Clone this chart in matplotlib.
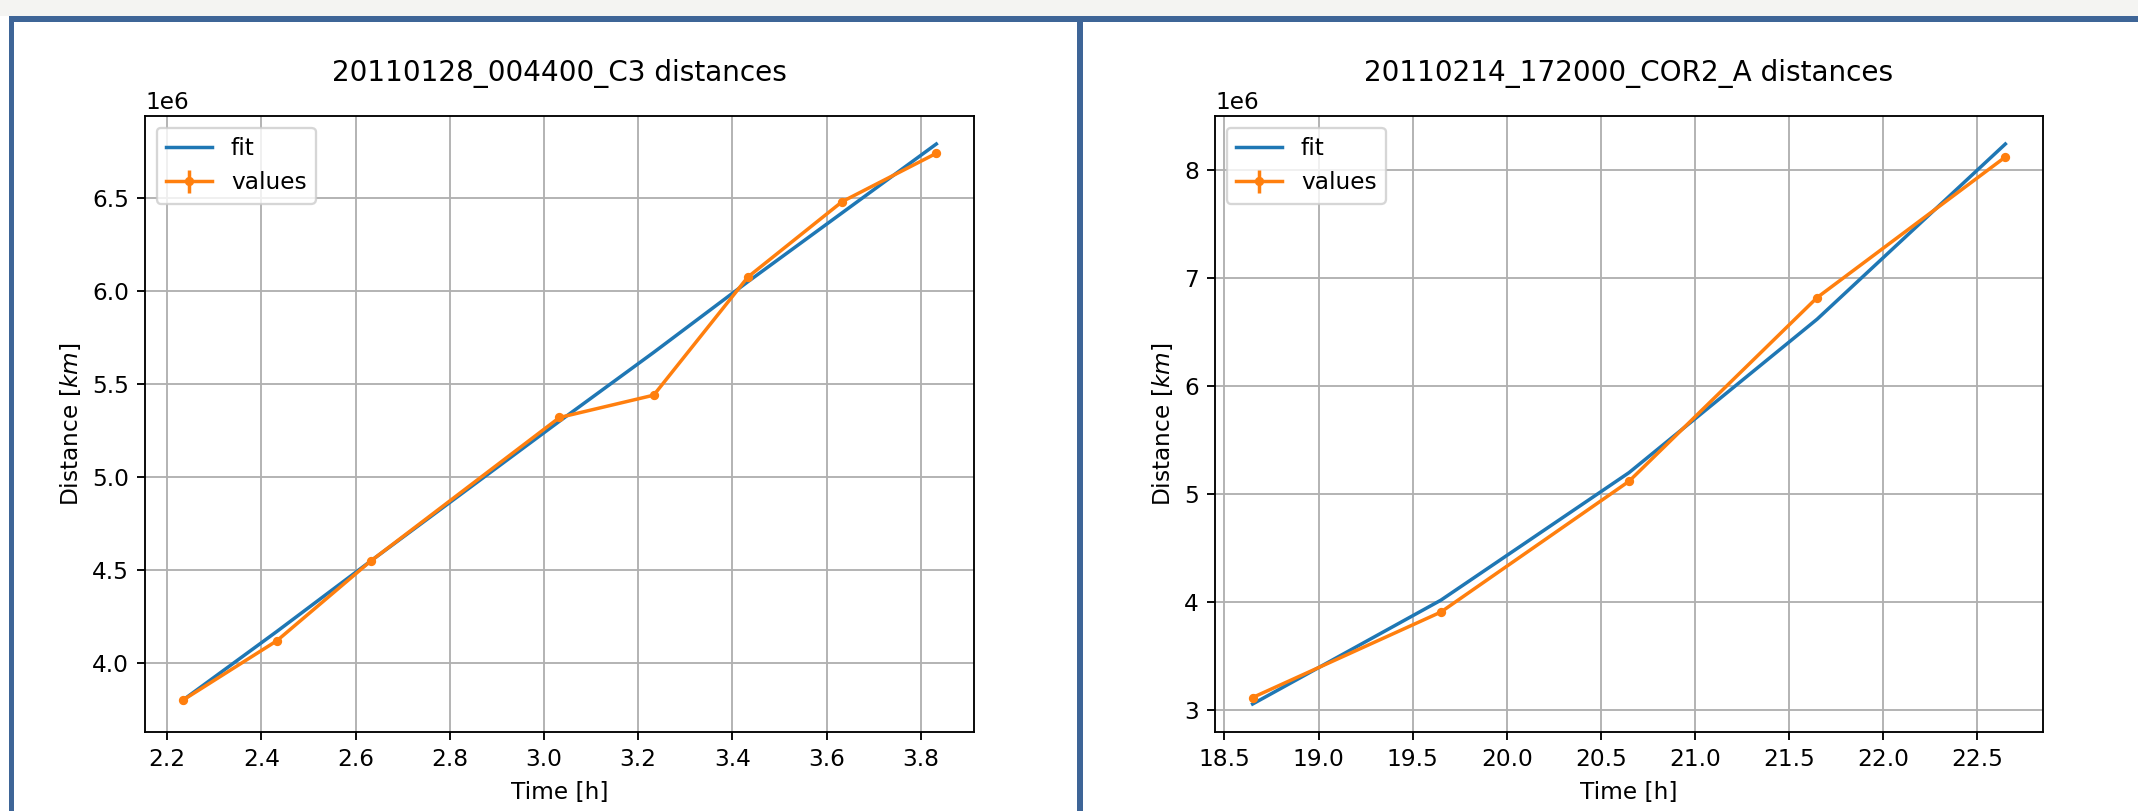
import numpy as np
import matplotlib
matplotlib.use("Agg")
import matplotlib.pyplot as plt
from matplotlib.patches import Rectangle

# left panel: LASCO C3
t_c3 = [2.233, 2.433, 2.633, 3.033, 3.233, 3.433, 3.633, 3.833]
d_c3 = [3.80e6, 4.12e6, 4.55e6, 5.32e6, 5.44e6, 6.075e6, 6.48e6, 6.74e6]
err_c3 = [0.02e6] * 8
fit_c3 = [3.80e6, 4.17e6, 4.55e6, 5.30e6, 5.67e6, 6.05e6, 6.42e6, 6.79e6]

# right panel: STEREO COR2 A
t_cor2 = [18.65, 19.65, 20.65, 21.65, 22.65]
d_cor2 = [3.12e6, 3.91e6, 5.12e6, 6.82e6, 8.12e6]
err_cor2 = [0.03e6] * 5
fit_cor2 = [3.06e6, 4.02e6, 5.20e6, 6.62e6, 8.24e6]

titles = ["20110128_004400_C3 distances", "20110214_172000_COR2_A distances"]

W, H = 2138, 811
DPI = 167
fig = plt.figure(figsize=(W / DPI, H / DPI), dpi=DPI)
fig.patch.set_facecolor("white")


def px_rect(x0, y0, x1, y1, color):
    # rectangle given in pixel coords from top-left
    fig.patches.append(Rectangle((x0 / W, 1 - y1 / H), (x1 - x0) / W, (y1 - y0) / H,
                                 transform=fig.transFigure, color=color, lw=0, zorder=0))


# screenshot frame
px_rect(0, 0, W, 16, "#f4f4f2")
px_rect(9, 16, W, 22, "#3e6597")
px_rect(9, 16, 14, H, "#3e6597")
px_rect(1077, 16, 1083, H, "#3e6597")

panels = [
    (145, 974, t_c3, d_c3, err_c3, fit_c3, titles[0]),
    (1215, 2043, t_cor2, d_cor2, err_cor2, fit_cor2, titles[1]),
]
top, bottom = 116, 732
for x0, x1, t, d, e, f, title in panels:
    ax = fig.add_axes([x0 / W, 1 - bottom / H, (x1 - x0) / W, (bottom - top) / H])
    ax.plot(t, f, label="fit")
    ax.errorbar(t, d, yerr=e, marker=".", label="values")
    ax.set_title(title, pad=15)
    ax.set_xlabel("Time [h]")
    ax.set_ylabel("Distance [$km$]")
    ax.grid(True)
    ax.legend(loc="upper left")

fig.savefig("out.png", dpi=DPI)
